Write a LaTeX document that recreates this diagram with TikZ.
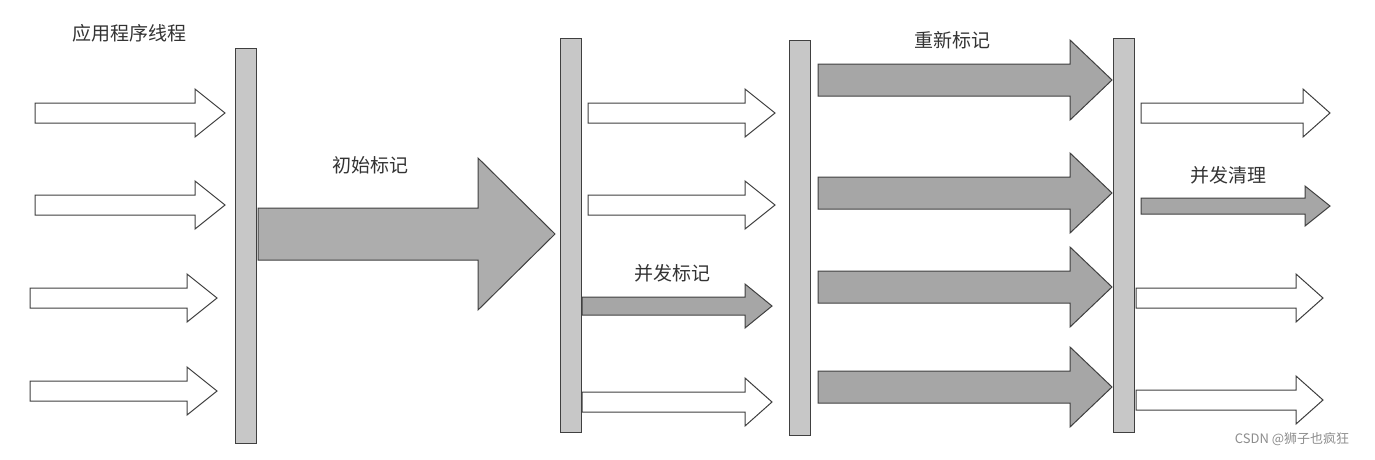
\documentclass[tikz,border=0pt]{standalone}
\usepackage{fontspec}
\newfontfamily\cjk{Noto Sans CJK SC}
\newcommand\arr[7]{% x1 x2 y shafthalf headhalf headlen fill
  \draw[arrowline,fill=#7] (#1,#3-#4) -- ({#2-#6},#3-#4) -- ({#2-#6},#3-#5) -- (#2,#3) -- ({#2-#6},#3+#5) -- ({#2-#6},#3+#4) -- (#1,#3+#4) -- cycle;}
\begin{document}
\begin{tikzpicture}[x=1pt,y=-1pt,
  arrowline/.style={draw=black!75,line width=1pt,line join=miter},
  bar/.style={draw=black!75,line width=1pt,fill=black!22},
  lbl/.style={font=\cjk\fontsize{19}{22}\selectfont,text=black!80}]
\useasboundingbox (0,0) rectangle (1375,459);
% bars
\draw[bar] (235,48) rectangle (256,443);
\draw[bar] (560,38) rectangle (581,432);
\draw[bar] (789,40) rectangle (810,435);
\draw[bar] (1113,38) rectangle (1134,432);
% column 1
\arr{35}{225}{113}{10}{24}{30}{white}
\arr{35}{225}{205}{10}{24}{30}{white}
\arr{30}{217}{298}{10}{24}{30}{white}
\arr{30}{217}{391}{10}{24}{30}{white}
% big arrow
\arr{258}{555}{234}{26}{76}{77}{black!32}
% column 2
\arr{588}{775}{113}{10}{24}{30}{white}
\arr{588}{775}{205}{10}{24}{30}{white}
\arr{582}{772}{306}{9}{22}{27}{black!35}
\arr{582}{772}{402}{10}{24}{27}{white}
% column 3
\arr{818}{1112}{80}{16}{40}{42}{black!35}
\arr{818}{1112}{193}{16}{40}{42}{black!35}
\arr{818}{1112}{287}{16}{40}{42}{black!35}
\arr{818}{1112}{387}{16}{40}{42}{black!35}
% column 4
\arr{1141}{1330}{113}{10}{24}{27}{white}
\arr{1141}{1330}{206}{8}{20}{25}{black!35}
\arr{1136}{1323}{298}{10}{24}{27}{white}
\arr{1136}{1323}{400}{10}{24}{27}{white}
% labels
\node[lbl] (l1) at (129,33) {应用程序线程};
\node[lbl] (l2) at (370,165) {初始标记};
\node[lbl] (l3) at (672,273) {并发标记};
\node[lbl] (l4) at (952,40) {重新标记};
\node[lbl] (l5) at (1228,175) {并发清理};
\node[font=\cjk\fontsize{13}{15}\selectfont,text=black!45] (wm) at (1292,439) {CSDN @狮子也疯狂};
\end{tikzpicture}
\end{document}
